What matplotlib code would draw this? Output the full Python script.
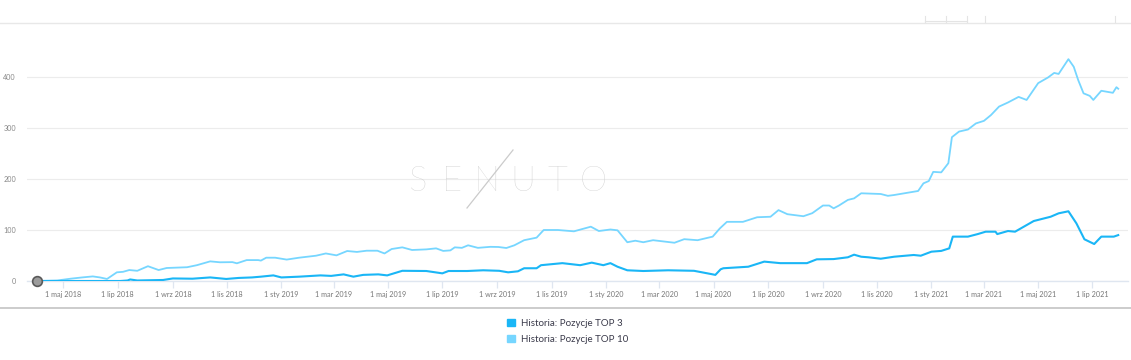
import matplotlib.pyplot as plt
import matplotlib.dates as mdates
from matplotlib.patches import Patch
from matplotlib.lines import Line2D
import numpy as np

# Historia: Pozycje TOP 10
top10_dates = [
    "2018-04-01", "2018-04-24", "2018-05-09", "2018-05-22", "2018-06-03", "2018-06-11",
    "2018-06-19", "2018-06-30", "2018-07-07", "2018-07-14", "2018-07-23", "2018-08-04",
    "2018-08-16", "2018-08-25", "2018-09-17", "2018-09-28", "2018-10-13", "2018-10-24",
    "2018-11-07", "2018-11-12", "2018-11-23", "2018-12-06", "2018-12-09", "2018-12-15",
    "2018-12-25", "2019-01-07", "2019-01-21", "2019-02-09", "2019-02-20", "2019-03-04",
    "2019-03-16", "2019-03-27", "2019-04-07", "2019-04-19", "2019-04-27", "2019-05-05",
    "2019-05-17", "2019-05-28", "2019-06-13", "2019-06-24", "2019-07-02", "2019-07-10",
    "2019-07-15", "2019-07-23", "2019-07-30", "2019-08-10", "2019-08-24", "2019-09-02",
    "2019-09-11", "2019-09-20", "2019-10-01", "2019-10-15", "2019-10-23", "2019-11-08",
    "2019-11-26", "2019-12-15", "2019-12-24", "2020-01-06", "2020-01-14", "2020-01-25",
    "2020-02-03", "2020-02-12", "2020-02-23", "2020-03-18", "2020-03-29", "2020-04-13",
    "2020-04-30", "2020-05-08", "2020-05-16", "2020-06-03", "2020-06-19", "2020-07-04",
    "2020-07-13", "2020-07-23", "2020-08-10", "2020-08-20", "2020-09-01", "2020-09-08",
    "2020-09-13", "2020-09-19", "2020-09-29", "2020-10-06", "2020-10-14", "2020-11-05",
    "2020-11-13", "2020-11-20", "2020-12-05", "2020-12-17", "2020-12-23", "2020-12-29",
    "2021-01-03", "2021-01-12", "2021-01-20", "2021-01-24", "2021-02-01", "2021-02-11",
    "2021-02-20", "2021-03-01", "2021-03-09", "2021-03-18", "2021-03-28", "2021-04-09",
    "2021-04-18", "2021-05-01", "2021-05-12", "2021-05-19", "2021-05-24", "2021-06-04",
    "2021-06-10", "2021-06-15", "2021-06-21", "2021-06-28", "2021-07-02", "2021-07-11",
    "2021-07-24", "2021-07-28", "2021-07-30",
]
top10_values = [
    0, 1, 4.5, 7, 9, 7,
    4, 17, 18, 21.5, 20, 29,
    21.5, 25.5, 27, 31, 38.5, 36.7,
    37, 34.7, 41, 41, 40, 45.7,
    45.7, 42, 45.7, 49.6, 54, 50.3,
    58.8, 57, 59.4, 59.4, 54, 62.7,
    66, 60.8, 62, 64, 59, 60,
    66, 65, 70, 65, 67, 66.7,
    64.7, 70, 80, 85, 100, 100,
    97.4, 106.5, 98, 101, 99.4, 76,
    79, 76, 80, 75, 82, 80,
    87, 103, 116, 116, 125, 126,
    139, 131, 127, 133, 148, 148,
    142.5, 148, 159, 162, 172, 170.6,
    167, 168.6, 173, 176.5, 191.5, 196,
    214, 213, 231, 282, 293, 297,
    309, 314, 325.5, 342, 350, 361,
    355, 388, 399, 408, 406, 435,
    420, 394, 368, 363, 355, 373,
    369, 380, 377,
]

# Historia: Pozycje TOP 3
top3_dates = [
    "2018-04-01", "2018-07-04", "2018-07-12", "2018-07-15", "2018-07-23", "2018-08-21",
    "2018-09-01", "2018-09-23", "2018-10-13", "2018-10-31", "2018-11-14", "2018-11-29",
    "2018-12-09", "2018-12-23", "2019-01-01", "2019-01-21", "2019-02-14", "2019-02-26",
    "2019-03-12", "2019-03-23", "2019-04-03", "2019-04-20", "2019-04-30", "2019-05-17",
    "2019-06-13", "2019-07-01", "2019-07-08", "2019-07-29", "2019-08-16", "2019-09-03",
    "2019-09-13", "2019-09-24", "2019-10-01", "2019-10-15", "2019-10-20", "2019-11-13",
    "2019-12-03", "2019-12-16", "2019-12-29", "2020-01-06", "2020-01-14", "2020-01-25",
    "2020-02-12", "2020-03-11", "2020-04-09", "2020-04-28", "2020-05-03", "2020-05-09",
    "2020-05-12", "2020-06-09", "2020-06-27", "2020-07-15", "2020-08-14", "2020-08-25",
    "2020-09-13", "2020-09-29", "2020-10-06", "2020-10-14", "2020-10-22", "2020-11-05",
    "2020-11-20", "2020-12-12", "2020-12-20", "2021-01-01", "2021-01-12", "2021-01-21",
    "2021-01-25", "2021-02-11", "2021-02-22", "2021-03-03", "2021-03-14", "2021-03-16",
    "2021-03-28", "2021-04-05", "2021-04-26", "2021-05-15", "2021-05-24", "2021-06-04",
    "2021-06-13", "2021-06-22", "2021-07-03", "2021-07-11", "2021-07-25", "2021-07-30",
]
top3_values = [
    0, 0, 1, 3, 1, 2,
    5, 4.5, 7, 4, 6, 7,
    8.5, 11, 7, 8.5, 11, 10,
    13, 8.5, 12, 13, 11, 20,
    19.6, 15, 19.6, 19.6, 21, 20,
    17, 19, 25, 25, 31, 35,
    31, 36, 31, 35, 28, 21,
    19.6, 21, 20, 13.7, 12, 23,
    25, 28, 38, 35, 35, 42.5,
    43, 46.5, 51.6, 47.6, 46.5, 43.7,
    47.6, 51, 49.6, 57.5, 59, 64,
    87, 87, 92, 96.7, 96.7, 92,
    98, 96.7, 117.6, 126, 132.7, 136.7,
    113, 81.8, 72.5, 87, 87, 90,
]

y_ticks = [0, 100, 200, 300, 400]
pl_months = ["sty", "lut", "mar", "kwi", "maj", "cze", "lip", "sie", "wrz", "paź", "lis", "gru"]
labels = ["Historia: Pozycje TOP 3", "Historia: Pozycje TOP 10"]

c3 = "#1ab6f6"
c10 = "#76d6ff"

W, H = 1131, 360
plt.rcParams["font.family"] = ["Lato", "DejaVu Sans"]
fig = plt.figure(figsize=(W / 100, H / 100), dpi=100)
fig.patch.set_facecolor("white")

ax = fig.add_axes([27 / W, 1 - 281 / H, (1128 - 27) / W, (281 - 26) / H])

d10 = np.array(top10_dates, dtype="datetime64[D]")
d3 = np.array(top3_dates, dtype="datetime64[D]")
ax.plot(d10, top10_values, color=c10, lw=1.3, solid_joinstyle="round", zorder=3)
ax.plot(d3, top3_values, color=c3, lw=1.5, solid_joinstyle="round", zorder=4)
ax.plot(d3[:1], top3_values[:1], "o", ms=7, mfc="#9c9c9c", mec="#5a5a5a", mew=1.2,
        clip_on=False, zorder=5)

ax.set_xlim(np.datetime64("2018-03-21"), np.datetime64("2021-08-10"))
ax.set_ylim(0, 500)
ax.set_yticks(y_ticks)
ax.set_yticklabels([str(v) for v in y_ticks])
ax.yaxis.grid(True, color="#ececec", lw=0.8)
ax.set_axisbelow(True)

ax.xaxis.set_major_locator(mdates.MonthLocator(bymonth=[1, 3, 5, 7, 9, 11]))
ax.xaxis.set_major_formatter(plt.FuncFormatter(
    lambda v, p: "1 %s %d" % (pl_months[mdates.num2date(v).month - 1], mdates.num2date(v).year)))

for s in ["top", "right", "left"]:
    ax.spines[s].set_visible(False)
ax.spines["bottom"].set_color("#dfe6f0")
ax.spines["bottom"].set_linewidth(1.0)
ax.tick_params(axis="x", colors="#dfe6f0", length=5, width=0.9, labelsize=5.2,
               labelcolor="#777777", pad=2)
ax.tick_params(axis="y", length=0, labelsize=5.2, labelcolor="#888888", pad=8)

# watermark
for i, ch in enumerate("SENUTO"):
    fig.text((417 + i * 35.2) / W, 1 - 181 / H, ch, ha="center", va="center",
             fontsize=25, color="#cbcbcb", fontweight="light")
fig.add_artist(Line2D([467 / W, 513 / W], [1 - 208 / H, 1 - 150 / H], color="#cbcbcb", lw=0.9))

# frame lines
fig.add_artist(Line2D([0, 1], [1 - 22.5 / H, 1 - 22.5 / H], color="#e8e8e8", lw=1.0))
fig.add_artist(Line2D([0, 1], [1 - 308 / H, 1 - 308 / H], color="#c4c4c4", lw=1.2))
for x in [925, 946, 967, 985, 1115]:
    fig.add_artist(Line2D([x / W, x / W], [1 - 16 / H, 1 - 22 / H], color="#e4e4e4", lw=0.8))
fig.add_artist(Line2D([925 / W, 967 / W], [1 - 21 / H, 1 - 21 / H], color="#e4e4e4", lw=0.8))

fig.legend(handles=[Patch(color=c3, label=labels[0]), Patch(color=c10, label=labels[1])],
           loc="upper left", bbox_to_anchor=(507 / W, 1 - 319 / H), frameon=False,
           fontsize=7, handlelength=0.8, handleheight=0.8, handletextpad=0.6,
           labelspacing=0.7, labelcolor="#3a3a4a", borderpad=0, borderaxespad=0)

fig.savefig("out.png", dpi=100)
